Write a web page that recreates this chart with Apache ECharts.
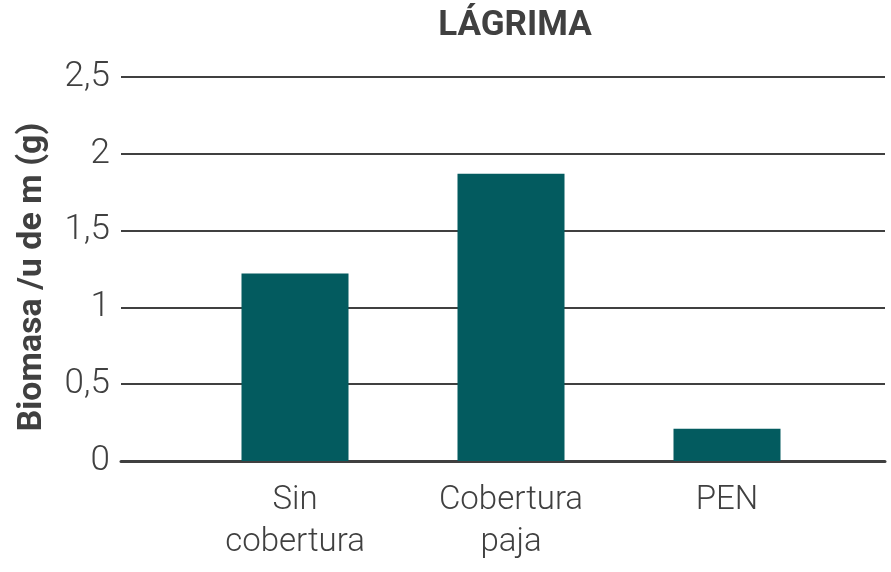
<!DOCTYPE html>
<html>
<head>
<meta charset="utf-8">
<script src="https://cdn.jsdelivr.net/npm/echarts@6/dist/echarts.min.js"></script>
<style>
  html, body { margin: 0; padding: 0; background: #fff; }
  #chart { width: 891px; height: 572px; }
</style>
</head>
<body>
<div id="chart"></div>
<script>
const categories = ['Sin\ncobertura', 'Cobertura\npaja', 'PEN']
const biomasa = [1.22, 1.87, 0.21]

const textColor = '#404040'
const barColor = '#035b5f'

const chart = echarts.init(document.getElementById('chart'))
chart.setOption({
  animation: false,
  title: {
    text: 'LÁGRIMA',
    left: 510,
    top: 4,
    textAlign: 'center',
    textStyle: { fontFamily: 'Roboto', fontWeight: 'bold', fontSize: 35, color: textColor }
  },
  grid: [
    // gridlines span wider than the bars
    { left: 121, right: 6, top: 77, bottom: 111 },
    { left: 187, right: 56, top: 77, bottom: 111 }
  ],
  xAxis: [{
    gridIndex: 0,
    type: 'value',
    min: 0,
    max: 1,
    axisLine: { show: true, onZero: false, lineStyle: { color: textColor, width: 3 } },
    axisTick: { show: false },
    axisLabel: { show: false },
    splitLine: { show: false }
  }, {
    gridIndex: 1,
    type: 'category',
    data: categories,
    axisLine: { show: false },
    axisTick: { show: false },
    axisLabel: {
      margin: 19,
      fontFamily: 'Roboto',
      fontWeight: 300,
      fontSize: 33,
      lineHeight: 42,
      color: textColor
    }
  }],
  yAxis: [{
    gridIndex: 0,
    type: 'value',
    min: 0,
    max: 2.5,
    interval: 0.5,
    name: 'Biomasa /u de m (g)',
    nameLocation: 'middle',
    nameGap: 72,
    nameTextStyle: {
      fontFamily: 'Roboto',
      fontWeight: 'bold',
      fontSize: 34,
      color: textColor,
      padding: [0, 16, 0, 0]
    },
    axisLine: { show: false },
    axisTick: { show: false },
    axisLabel: {
      margin: 11,
      fontFamily: 'Roboto',
      fontWeight: 300,
      fontSize: 35,
      color: textColor,
      formatter: v => String(v).replace('.', ',')
    },
    splitLine: { lineStyle: { color: textColor, width: 2 } }
  }, {
    gridIndex: 1,
    type: 'value',
    min: 0,
    max: 2.5,
    interval: 0.5,
    show: false,
    splitLine: { show: false }
  }],
  series: [{
    type: 'bar',
    xAxisIndex: 1,
    yAxisIndex: 1,
    data: biomasa,
    barWidth: 107,
    itemStyle: { color: barColor }
  }]
})
</script>
</body>
</html>
